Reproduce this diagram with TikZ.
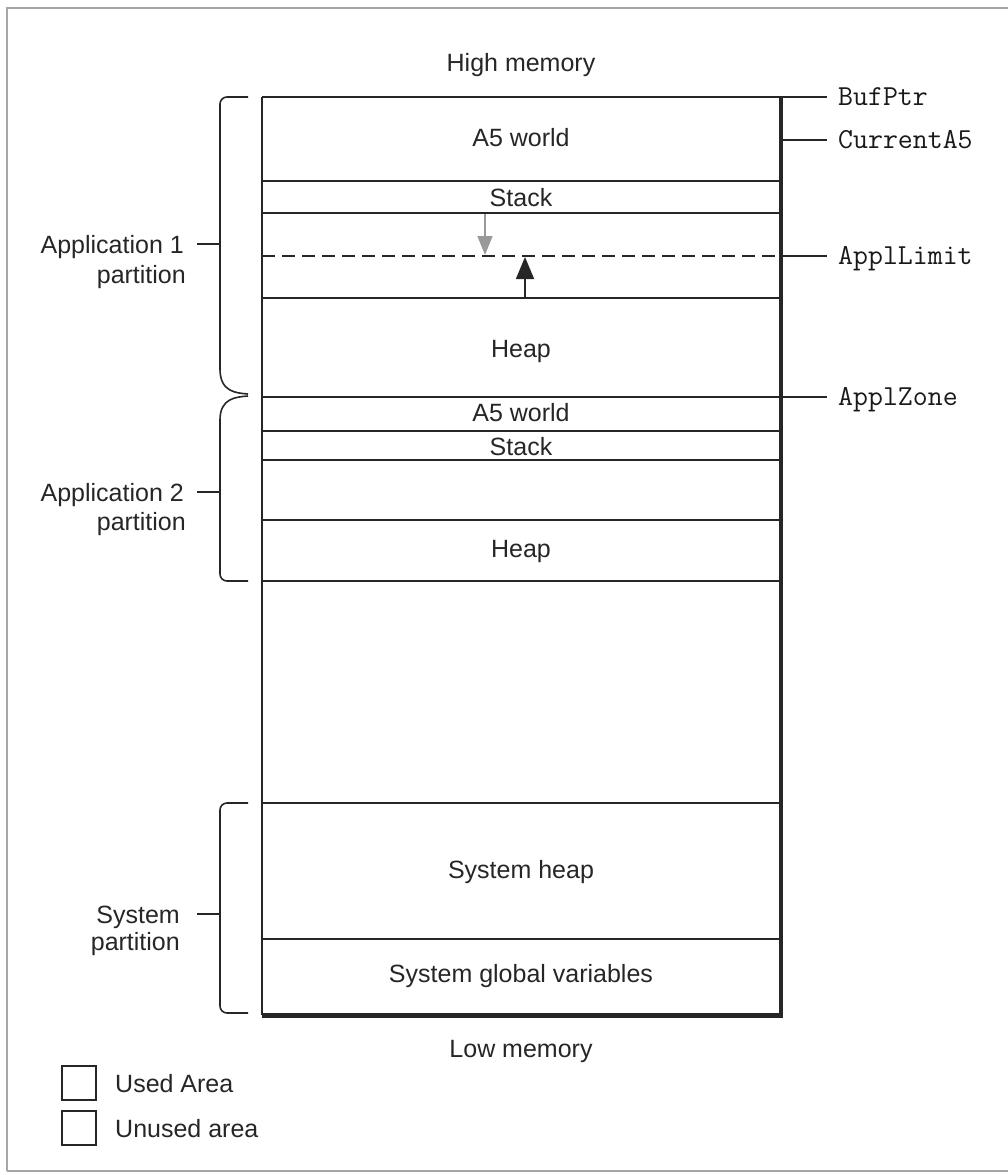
\documentclass[tikz,border=0pt]{standalone}
\usepackage{fontspec}
\setmainfont{Liberation Sans}
\usetikzlibrary{arrows.meta}
\tikzset{
  thin line/.style={line width=1.6pt, black!85},
  thick edge/.style={line width=4.5pt, black!85},
  txt/.style={font=\fontsize{25}{30}\selectfont, inner sep=0pt, anchor=base, text=black!85},
  lbl/.style={txt, anchor=base east},
  ptr/.style={font=\ttfamily\fontsize{29}{32}\selectfont, inner sep=0pt, anchor=base west, text=black!90},
  bracket/.style={line width=1.6pt, black!85, rounded corners=7pt},
  framecol/.style={line width=1.5pt, black!35}
}
\begin{document}
\begin{tikzpicture}[x=1pt,y=-1pt]
\useasboundingbox (0,0) rectangle (1008,1175);
% outer frame
\draw[framecol] (7,1171) -- (7,8) -- (1010,8);
\draw[framecol] (7,1171) -- (1010,1171);

% memory column coordinates
\coordinate (tl) at (262,97);
\coordinate (tr) at (781,97);
\coordinate (bl) at (262,1015);
\coordinate (br) at (781,1015);

% separators
\foreach \yy in {181,213,298,431,460,520,581,803,939}
  \draw[thin line] (262,\yy) -- (781,\yy);
\draw[thin line] (262,397) -- (827,397);
\draw[thin line] (262,97) -- (827,97);
\draw[thin line] (tl) -- (bl);
\draw[thin line, dash pattern=on 13pt off 7pt] (262,256) -- (781,256);
\draw[thin line] (783,256) -- (827,256);
\draw[thin line] (783,140) -- (827,140);
\draw[thick edge] (tr) -- (781,1017);
\draw[line width=5pt, black!85] (262,1015) -- (783.25,1015);

% pointer labels
\node[ptr] (bufptr) at (838,105) {BufPtr};
\node[ptr] (curA5) at (838,148) {CurrentA5};
\node[ptr] (applLimit) at (838,264) {ApplLimit};
\node[ptr] (applZone) at (838,405) {ApplZone};

% region labels
\node[txt] (high) at (521,71) {High memory};
\node[txt] (a5w1) at (521,146) {A5 world};
\node[txt] (stack1) at (521,206) {Stack};
\node[txt] (heap1) at (521,357) {Heap};
\node[txt] (a5w2) at (521,421) {A5 world};
\node[txt] (stack2) at (521,455) {Stack};
\node[txt] (heap2) at (521,557) {Heap};
\node[txt] (sysheap) at (521,878) {System heap};
\node[txt] (sysglob) at (521,982) {System global variables};
\node[txt] (low) at (521,1057) {Low memory};

% arrows
\coordinate (sA) at (485,214);
\coordinate (sB) at (485,255);
\draw[line width=1.5pt, black!40, -{Triangle[width=15pt,length=19pt]}] (sA) -- (sB);
\coordinate (hA) at (525,297);
\coordinate (hB) at (525,257);
\draw[line width=1.6pt, black!85, -{Triangle[width=18pt,length=22pt]}] (hA) -- (hB);

% brackets
\draw[bracket] (248,97) -- (220,97) -- (220,370);
\draw[line width=1.6pt, black!85] (220,369) .. controls (220,392) and (236,393) .. (248,394);
\draw[line width=1.6pt, black!85] (248,396) .. controls (236,397) and (220,398) .. (220,420);
\draw[bracket] (220,419) -- (220,581) -- (248,581);
\draw[bracket] (248,803) -- (220,803) -- (220,1013) -- (248,1013);
\draw[thin line] (197,244) -- (220,244);
\draw[thin line] (197,492) -- (220,492);
\draw[thin line] (197,914) -- (220,914);

% left labels
\node[lbl] (app1a) at (184,253) {Application 1};
\node[lbl] (app1b) at (186,283) {partition};
\node[lbl] (app2a) at (184,501) {Application 2};
\node[lbl] (app2b) at (186,530) {partition};
\node[lbl] (sysa) at (180,923) {System};
\node[lbl] (sysb) at (180,950) {partition};

% legend
\node[draw, line width=1.6pt, black!85, minimum size=34pt, inner sep=0pt] (usedbox) at (79,1083) {};
\node[draw, line width=1.6pt, black!85, minimum size=34pt, inner sep=0pt] (unusedbox) at (79,1128) {};
\node[txt, anchor=base west] (usedtxt) at (115,1092) {Used Area};
\node[txt, anchor=base west] (unusedtxt) at (115,1137) {Unused area};
\end{tikzpicture}
\end{document}
